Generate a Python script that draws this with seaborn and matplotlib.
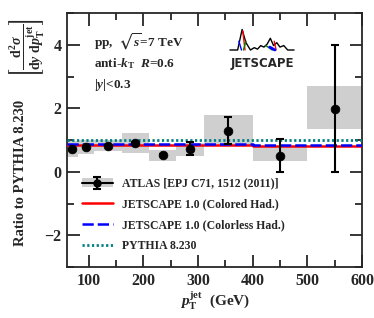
import numpy as np
import pandas as pd
import matplotlib
matplotlib.use("Agg")
import matplotlib.pyplot as plt
import seaborn as sns
from matplotlib.patches import Patch
from matplotlib.lines import Line2D
from matplotlib.ticker import MultipleLocator

# ---------------- data ----------------
bin_edges = [60, 80, 110, 160, 210, 260, 310, 400, 500, 600]
pt_centers = [70, 95, 135, 185, 235, 285, 355, 450, 550]
atlas_ratio = [0.71, 0.78, 0.82, 0.90, 0.53, 0.73, 1.29, 0.51, 1.99]
atlas_stat = [0.02, 0.02, 0.02, 0.03, 0.04, 0.21, 0.42, 0.52, 2.00]
atlas_sys_low = [0.47, 0.55, 0.66, 0.60, 0.35, 0.50, 0.80, 0.35, 1.35]
atlas_sys_high = [0.96, 1.00, 1.00, 1.22, 0.68, 0.91, 1.80, 0.79, 2.70]
jetscape_colored = [0.85, 0.85, 0.85, 0.85, 0.85, 0.85, 0.85, 0.80, 0.80]
jetscape_colorless = [0.88, 0.88, 0.88, 0.88, 0.88, 0.88, 0.88, 0.85, 0.85]
pythia = [1.0, 1.0, 1.0, 1.0, 1.0, 1.0, 1.0, 1.0, 1.0]

legend_labels = ["ATLAS [EPJ C71, 1512 (2011)]",
                 "JETSCAPE 1.0 (Colored Had.)",
                 "JETSCAPE 1.0 (Colorless Had.)",
                 "PYTHIA 8.230"]
x_ticks = [100, 200, 300, 400, 500, 600]
y_ticks = [-2, 0, 2, 4]

# logo outline (decoration)
logo_x = [0.0, 1.2, 1.9, 2.5, 3.2, 3.8, 4.3, 4.8, 5.3, 5.8, 6.3, 6.8, 7.3, 7.8, 8.4, 9.0, 10.0]
logo_y = [0.30, 0.30, 1.00, 0.55, 0.30, 0.38, 0.33, 0.45, 0.40, 0.50, 0.70, 0.45, 0.55, 0.40, 0.45, 0.30, 0.30]

SERIF = ["Liberation Serif", "DejaVu Serif"]

# ---------------- style ----------------
sns.set_style("ticks")
plt.rcParams["font.family"] = SERIF
plt.rcParams["font.weight"] = "bold"
plt.rcParams["mathtext.fontset"] = "custom"
plt.rcParams["mathtext.rm"] = "Liberation Serif:bold"
plt.rcParams["mathtext.it"] = "Liberation Serif:italic:bold"
plt.rcParams["mathtext.bf"] = "Liberation Serif:bold"
plt.rcParams["mathtext.fallback"] = "stix"

fig = plt.figure(figsize=(3.74, 3.18), dpi=100)
ax = fig.add_axes([67/374, 1-267/318, (362-67)/374, (267-13)/318])

# systematic boxes
widths = np.diff(bin_edges)
heights = np.array(atlas_sys_high) - np.array(atlas_sys_low)
ax.bar(bin_edges[:-1], heights, width=widths, bottom=atlas_sys_low, align="edge",
       color="#cfcfcf", edgecolor="none", zorder=1)

# theory lines
df_lines = pd.DataFrame({
    "pt": bin_edges,
    "colored": jetscape_colored + [jetscape_colored[-1]],
    "colorless": jetscape_colorless + [jetscape_colorless[-1]],
    "pythia": pythia + [pythia[-1]],
})
sns.lineplot(data=df_lines, x="pt", y="pythia", drawstyle="steps-post", estimator=None,
             sort=False, color="#008080", lw=2.0, linestyle=(0, (0.8, 0.9)), ax=ax, zorder=3)
sns.lineplot(data=df_lines, x="pt", y="colored", drawstyle="steps-post", estimator=None,
             sort=False, color="#ff0000", lw=1.8, ax=ax, zorder=4)
sns.lineplot(data=df_lines, x="pt", y="colorless", drawstyle="steps-post", estimator=None,
             sort=False, color="#0000ff", lw=1.8, linestyle=(0, (4.5, 1.6)), ax=ax, zorder=5)

# data points
eb = ax.errorbar(pt_centers, atlas_ratio, yerr=atlas_stat, fmt="none", ecolor="black",
                 elinewidth=1.5, capsize=3, capthick=1.5, zorder=6)
sns.scatterplot(x=pt_centers, y=atlas_ratio, color="black", s=40, edgecolor="black",
                ax=ax, zorder=7, legend=False)

ax.set_xlim(60, 600)
ax.set_ylim(-3, 5)
ax.set_xticks(x_ticks)
ax.set_yticks(y_ticks)
ax.xaxis.set_minor_locator(MultipleLocator(50))
ax.yaxis.set_minor_locator(MultipleLocator(1))
ax.tick_params(which="both", direction="in", top=True, right=True, width=1.3)
ax.tick_params(which="major", length=9, labelsize=11.5, pad=4)
ax.tick_params(which="minor", length=5)
for lab in ax.get_xticklabels() + ax.get_yticklabels():
    lab.set_fontweight("bold")
    lab.set_family(SERIF)
for sp in ax.spines.values():
    sp.set_linewidth(1.3)
ax.set_xlabel("")
ax.set_ylabel("")

fig.text(215/374, 1-300/318, r"$p_{\mathrm{T}}^{\mathrm{jet}}$  (GeV)", ha="center", va="center",
         fontsize=11, fontweight="bold")
fig.text(21/374, 1-173/318, "Ratio to PYTHIA 8.230",
         rotation=90, ha="center", va="center", fontsize=10.5, fontweight="bold")
fig.text(26/374, 1-48/318,
         r"$\left[\dfrac{\mathrm{d}^2\sigma}{\mathrm{d}y\ \mathrm{d}p_{\mathrm{T}}^{\mathrm{jet}}}\right]$",
         rotation=90, ha="center", va="center", fontsize=10, fontweight="bold")

# annotations
ax.text(0.09, 0.885, r"pp,  $\sqrt{s}$=7 TeV", transform=ax.transAxes, fontsize=9.5,
        fontweight="bold", va="center")
ax.text(0.09, 0.80, r"anti-$k_{\mathrm{T}}$  $R$=0.6", transform=ax.transAxes, fontsize=9.5,
        fontweight="bold", va="center")
ax.text(0.09, 0.715, r"$|y|$<0.3", transform=ax.transAxes, fontsize=9.5,
        fontweight="bold", va="center")

# legend
h_atlas = (Patch(facecolor="#cfcfcf", edgecolor="none"), eb,
           Line2D([], [], marker="o", color="black", lw=1.5, markersize=5))
h_col = Line2D([], [], color="#ff0000", lw=1.8)
h_cl = Line2D([], [], color="#0000ff", lw=1.8, linestyle=(0, (4.5, 1.6)))
h_py = Line2D([], [], color="#008080", lw=2.0, linestyle=(0, (0.8, 0.9)))
leg = ax.legend([h_atlas, h_col, h_cl, h_py], legend_labels, loc="upper left",
                bbox_to_anchor=(0.035, 0.37), frameon=False, fontsize=8.5,
                handlelength=2.6, labelspacing=0.75, handletextpad=0.8, borderaxespad=0)
for t in leg.get_texts():
    t.set_fontweight("bold")

# logo
lax = fig.add_axes([228/374, 1-72/318, 68/374, 44/318])
lax.set_xlim(-0.3, 10.3)
lax.set_ylim(-0.45, 1.05)
lax.axis("off")
lax.plot(logo_x, logo_y, color="black", lw=1.0)
lax.plot([2.0, 2.35], [0.95, 0.3], color="red", lw=1.0)
lax.plot([1.4, 1.8], [0.6, 0.3], color="blue", lw=1.0)
lax.plot([2.5, 2.1], [0.6, 0.3], color="green", lw=1.0)
lax.plot([6.9, 7.2], [0.6, 0.3], color="red", lw=1.0)
lax.plot([5.6, 6.6], [0.45, 0.3], color="green", lw=1.0)
lax.plot([6.2, 7.0], [0.4, 0.3], color="blue", lw=2.0)
lax.text(5.0, -0.15, "JETSCAPE", ha="center", va="center", fontsize=8.5,
         fontweight="heavy", family="DejaVu Sans")

fig.savefig("out.png", dpi=100)
